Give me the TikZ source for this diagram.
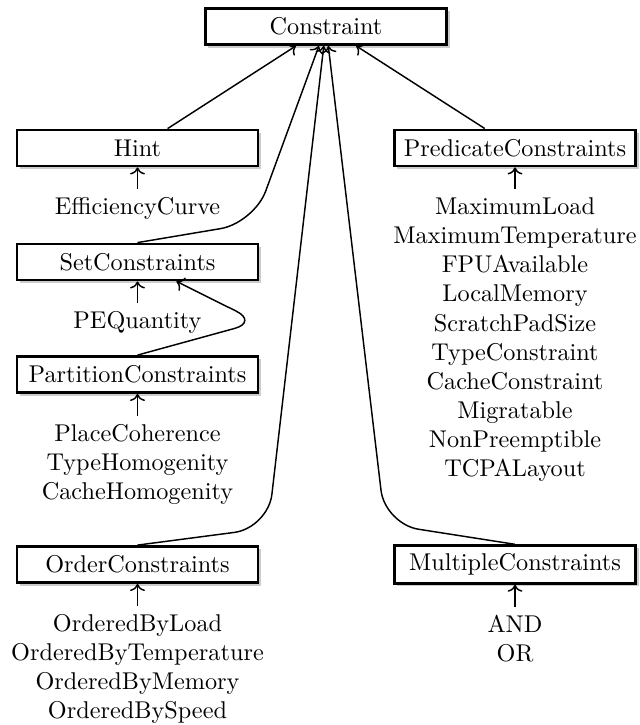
\documentclass[tikz,border=0pt]{standalone}
\usepackage{tikz}
\usetikzlibrary{arrows.meta, positioning, shadows}
\tikzset{
	cbox/.style ={rectangle, draw=black, line width=1pt, fill=white, minimum width=99.5pt, minimum height=15pt, text centered, drop shadow={shadow xshift=1.2pt, shadow yshift=-1.2pt, fill=black!40}},
	clist/.style={align=center},
	inh/.style  ={->, semithick},
}

\begin{document}
\begin{tikzpicture}[x=0.4124pt, y=-0.4124pt, node distance=9pt]
	\useasboundingbox (0,0) rectangle (639,725);
	% boxes
	\node[cbox] (cons) at (326,26.5) {Constraint};
	\node[cbox] (hint) at (137.5,148) {Hint};
	\node[cbox] (pred) at (515,148) {PredicateConstraints};
	\node[cbox] (set)  at (137.5,262) {SetConstraints};
	\node[cbox] (part) at (137.5,374.5) {PartitionConstraints};
	\node[cbox] (ord)  at (137.5,564.5) {OrderConstraints};
	\node[cbox] (mult) at (515,564.5) {MultipleConstraints};
	% lists under the boxes
	\node[clist, below=of hint] (effc){EfficiencyCurve};
	\node[clist, below=of set]  (peq) {PEQuantity};
	\node[clist, below=of part] (partl){PlaceCoherence\\TypeHomogenity\\CacheHomogenity};
	\node[clist, below=of pred] (predl){MaximumLoad\\MaximumTemperature\\FPUAvailable\\LocalMemory\\ScratchPadSize\\TypeConstraint\\CacheConstraint\\Migratable\\NonPreemptible\\TCPALayout};
	\node[clist, below=of ord]  (ordl){OrderedByLoad\\OrderedByTemperature\\OrderedByMemory\\OrderedBySpeed};
	\node[clist, below=of mult] (multl){AND\\OR};
	\draw[inh](effc)--(hint); \draw[inh](peq)--(set); \draw[inh](partl)--(part);
	\draw[inh](predl)--(pred); \draw[inh](ordl)--(ord); \draw[inh](multl)--(mult);
	% bends
	\coordinate (setbend)  at (254,223);
	\coordinate (partbend) at (258,322);
	\coordinate (ordbend)  at (268,528);
	\coordinate (multbend) at (385,524);
	\draw[inh](hint)--(cons); \draw[inh](pred)--(cons);
	\draw[inh, rounded corners=14pt](set.north)--(setbend)--(cons);
	\draw[inh, rounded corners=10pt](part.north)--(partbend)--(set);
	\draw[inh, rounded corners=14pt](ord.north)--(ordbend)--(cons);
	\draw[inh, rounded corners=14pt](mult.north)--(multbend)--(cons);
\end{tikzpicture}
\end{document}
